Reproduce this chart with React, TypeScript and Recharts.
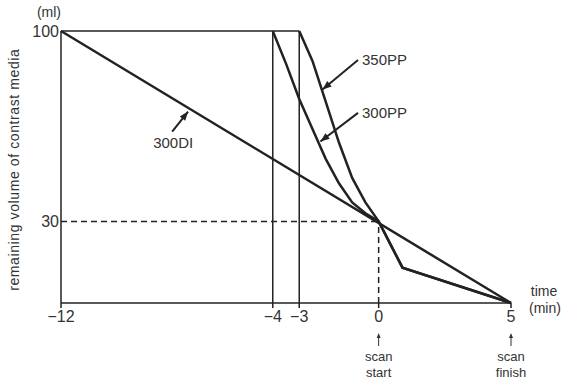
import React from "react";
import {
  Line,
  LineChart,
  ReferenceDot,
  ReferenceLine,
  XAxis,
  YAxis,
} from "recharts";

const FONT = "'Liberation Sans Narrow', 'Liberation Sans', Arial, sans-serif";
const INK = "#222";
const TEXT = "#333";

// time axis (min) and remaining volume (ml)
const xTicks = [-12, -4, -3, 0, 5];
const yTicks = [30, 100];

// injection start times for each protocol
const injectStart = [-12, -4, -3];
const scanStart = 0;
const scanFinish = 5;
const volumeAtScanStart = 30;

const di300Time = [-12, 5];
const di300Vol = [100, 0];

const pp300Time = [-4, -3.5, -3, -2.5, -2, -1.5, -1, -0.5, 0, 0.9, 5];
const pp300Vol = [100, 88, 75, 64, 53, 44, 37, 33, 30, 13, 0];

const pp350Time = [-3, -2.5, -2, -1.5, -1, -0.5, 0, 0.9, 5];
const pp350Vol = [100, 89, 74, 59, 46, 37, 30, 13, 0];

const toRows = (t: number[], v: number[]) => t.map((time, i) => ({ t: time, v: v[i] }));

const di300 = toRows(di300Time, di300Vol);
const pp300 = toRows(pp300Time, pp300Vol);
const pp350 = toRows(pp350Time, pp350Vol);

// annotation arrows: [tail, tip] in data units
const pointers = [
  { name: "300DI", tail: [-7.8, 63], tip: [-7.2, 70.4] },
  { name: "350PP", tail: [-0.78, 89.3], tip: [-2.12, 78.5] },
  { name: "300PP", tail: [-0.78, 69.9], tip: [-2.2, 59.4] },
];

function arrowHead(x1: number, y1: number, x2: number, y2: number, len = 9, half = 3.5) {
  const dx = x2 - x1;
  const dy = y2 - y1;
  const d = Math.hypot(dx, dy) || 1;
  const ux = dx / d;
  const uy = dy / d;
  const bx = x2 - ux * len;
  const by = y2 - uy * len;
  return `${x2},${y2} ${bx - uy * half},${by + ux * half} ${bx + uy * half},${by - ux * half}`;
}

function Pointer(props: any) {
  const { x1, y1, x2, y2, name } = props;
  const below = name === "300DI";
  return (
    <g>
      <line x1={x1} y1={y1} x2={x2} y2={y2} stroke={INK} strokeWidth={2} />
      <polygon points={arrowHead(x1, y1, x2, y2)} fill={INK} />
      {below ? (
        <text x={x1 + 1} y={y1 + 16} textAnchor="middle" fontSize={15} fill={TEXT} fontFamily={FONT}>
          {name}
        </text>
      ) : (
        <text x={x1 + 4} y={y1 + 5} textAnchor="start" fontSize={15} fill={TEXT} fontFamily={FONT}>
          {name}
        </text>
      )}
    </g>
  );
}

function ScanMark(props: any) {
  const { cx, cy, lines } = props;
  return (
    <g fontFamily={FONT} fontSize={13} fill={TEXT} textAnchor="middle">
      <line x1={cx} y1={cy + 43} x2={cx} y2={cy + 33} stroke={TEXT} strokeWidth={1} />
      <polygon points={arrowHead(cx, cy + 43, cx, cy + 30, 5, 2)} fill={TEXT} />
      <text x={cx} y={cy + 58}>{lines[0]}</text>
      <text x={cx} y={cy + 74}>{lines[1]}</text>
    </g>
  );
}

function AxisUnit(props: any) {
  const { cx, cy } = props;
  return (
    <g fontFamily={FONT} fontSize={14} fill={TEXT} textAnchor="middle">
      <text x={cx + 33} y={cy - 7}>time</text>
      <text x={cx + 34} y={cy + 10}>(min)</text>
    </g>
  );
}

function VolumeUnit(props: any) {
  const { cx, cy } = props;
  return (
    <text x={cx - 12} y={cy - 14} fontFamily={FONT} fontSize={14} fill={TEXT} textAnchor="middle">
      (ml)
    </text>
  );
}

function VolumeTitle(props: any) {
  const { cx, cy } = props;
  const x = cx - 47;
  return (
    <text
      x={x}
      y={cy}
      transform={`rotate(-90, ${x}, ${cy})`}
      fontFamily={FONT}
      fontSize={14}
      letterSpacing={0.6}
      fill={TEXT}
      textAnchor="middle"
      dominantBaseline="central"
    >
      remaining volume of contrast media
    </text>
  );
}

const fmtTick = (v: number) => (v < 0 ? `\u2212${Math.abs(v)}` : String(v));

export default function App() {
  return (
    <div style={{ position: "absolute", left: 0, top: 0, background: "#fff" }}>
      <LineChart width={565} height={380} margin={{ top: 31, right: 54, bottom: 47, left: 11 }}>
        <XAxis
          dataKey="t"
          type="number"
          domain={[-12, 5]}
          ticks={xTicks}
          interval={0}
          tickFormatter={fmtTick}
          height={30}
          tickSize={5}
          tickMargin={3}
          axisLine={{ stroke: INK, strokeWidth: 1.5 }}
          tickLine={{ stroke: INK, strokeWidth: 1.5 }}
          tick={{ fontSize: 16, fill: TEXT, fontFamily: FONT }}
        />
        <YAxis
          type="number"
          domain={[0, 100]}
          ticks={yTicks}
          interval={0}
          width={50}
          tickSize={0}
          tickMargin={2}
          axisLine={{ stroke: INK, strokeWidth: 1.5 }}
          tickLine={false}
          tick={{ fontSize: 16, fill: TEXT, fontFamily: FONT }}
        />

        {/* injection windows */}
        {injectStart.slice(1).map((t) => (
          <ReferenceLine
            key={t}
            segment={[{ x: t, y: 0 }, { x: t, y: 100 }]}
            stroke={INK}
            strokeWidth={1.5}
          />
        ))}
        <ReferenceLine
          segment={[{ x: injectStart[0], y: 100 }, { x: injectStart[2], y: 100 }]}
          stroke={INK}
          strokeWidth={1.5}
        />

        {/* volume left when the scan starts */}
        <ReferenceLine
          segment={[{ x: -12, y: volumeAtScanStart }, { x: scanStart, y: volumeAtScanStart }]}
          stroke={INK}
          strokeWidth={1.5}
          strokeDasharray="6 4"
        />
        <ReferenceLine
          segment={[{ x: scanStart, y: 0 }, { x: scanStart, y: volumeAtScanStart }]}
          stroke={INK}
          strokeWidth={1.5}
          strokeDasharray="6 4"
        />

        <Line data={di300} dataKey="v" type="linear" stroke={INK} strokeWidth={2.5} dot={false} isAnimationActive={false} />
        <Line data={pp300} dataKey="v" type="linear" stroke={INK} strokeWidth={2.5} dot={false} isAnimationActive={false} />
        <Line data={pp350} dataKey="v" type="linear" stroke={INK} strokeWidth={2.5} dot={false} isAnimationActive={false} />

        {pointers.map((p) => (
          <ReferenceLine
            key={p.name}
            segment={[{ x: p.tail[0], y: p.tail[1] }, { x: p.tip[0], y: p.tip[1] }]}
            shape={(sp: any) => <Pointer {...sp} name={p.name} />}
          />
        ))}

        <ReferenceDot x={scanStart} y={0} r={0} ifOverflow="visible" shape={(sp: any) => <ScanMark {...sp} lines={["scan", "start"]} />} />
        <ReferenceDot x={scanFinish} y={0} r={0} ifOverflow="visible" shape={(sp: any) => <ScanMark {...sp} lines={["scan", "finish"]} />} />
        <ReferenceDot x={scanFinish} y={0} r={0} ifOverflow="visible" shape={(sp: any) => <AxisUnit {...sp} />} />
        <ReferenceDot x={-12} y={100} r={0} ifOverflow="visible" shape={(sp: any) => <VolumeUnit {...sp} />} />
        <ReferenceDot x={-12} y={49} r={0} ifOverflow="visible" shape={(sp: any) => <VolumeTitle {...sp} />} />
      </LineChart>
    </div>
  );
}
